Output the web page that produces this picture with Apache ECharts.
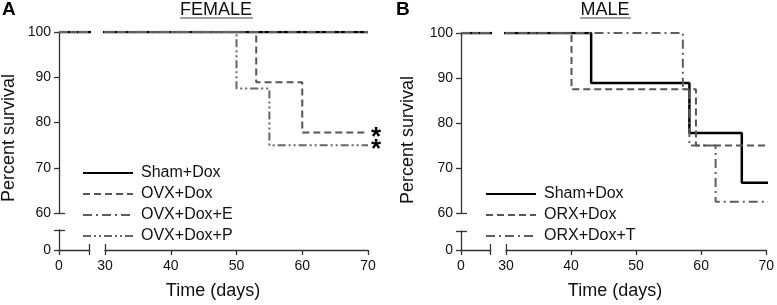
<!DOCTYPE html>
<html><head><meta charset="utf-8">
<script src="https://cdn.jsdelivr.net/npm/echarts@6/dist/echarts.min.js"></script>
<style>html,body{margin:0;padding:0;background:#fff}#c{width:777px;height:305px}</style>
</head><body><div id="c"></div>
<script>
const FONT = '"Liberation Sans", Arial, Helvetica, sans-serif';

// ---------- DATA ----------
// Panel A (FEMALE): Kaplan-Meier steps [day, percent survival]
const femaleNames = ['Sham+Dox', 'OVX+Dox', 'OVX+Dox+E', 'OVX+Dox+P'];
const femaleShamDays = [0, 70];
const femaleShamSurv = [100, 100];
const femaleOvxDays = [0, 53, 60, 70];
const femaleOvxSurv = [100, 88.9, 77.8, 77.8];
const femaleOvxEDays = [0, 70];
const femaleOvxESurv = [100, 100];
const femaleOvxPDays = [0, 50, 55, 70];
const femaleOvxPSurv = [100, 87.5, 75, 75];
const femaleSignificant = [false, true, false, true];

// Panel B (MALE)
const maleNames = ['Sham+Dox', 'ORX+Dox', 'ORX+Dox+T'];
const maleShamDays = [0, 43, 58, 66, 70];
const maleShamSurv = [100, 88.9, 77.8, 66.7, 66.7];
const maleOrxDays = [0, 40, 59, 70];
const maleOrxSurv = [100, 87.5, 75, 75];
const maleOrxTDays = [0, 57, 58, 62, 70];
const maleOrxTSurv = [100, 87.5, 75, 62.5, 62.5];
const maleSignificant = [false, false, false];

// Axis ticks
const xTicksLeft = [0];
const xTicksRight = [30, 40, 50, 60, 70];
const yTicksUpper = [60, 70, 80, 90, 100];
const yTicksLower = [0];
const LEFT_MAX = 4.5;   // end of the short first x segment (days)

// ---------- STYLES ----------
const STY = {
  solid:      {color: '#000',    width: 2.5, type: 'solid'},
  dashed:     {color: '#555',    width: 2,   type: [7, 4]},
  dashDot:    {color: '#5e5e5e', width: 2,   type: [9, 4, 2, 4]},
  dashDotDot: {color: '#666',    width: 2,   type: [8, 3, 2, 3, 2, 3]}
};
const AX = {color: '#333', width: 1.3};

function pts(days, surv) { return days.map((d, i) => [d, surv[i]]); }

const femaleDefs = [
  {data: pts(femaleShamDays, femaleShamSurv), st: STY.solid},
  {data: pts(femaleOvxDays, femaleOvxSurv), st: STY.dashed},
  {data: pts(femaleOvxEDays, femaleOvxESurv), st: STY.dashDot},
  {data: pts(femaleOvxPDays, femaleOvxPSurv), st: STY.dashDotDot}
].map((d, i) => Object.assign(d, {name: femaleNames[i], sig: femaleSignificant[i]}));

const maleDefs = [
  {data: pts(maleShamDays, maleShamSurv), st: STY.solid},
  {data: pts(maleOrxDays, maleOrxSurv), st: STY.dashed},
  {data: pts(maleOrxTDays, maleOrxTSurv), st: STY.dashDot}
].map((d, i) => Object.assign(d, {name: maleNames[i], sig: maleSignificant[i]}));

const grids = [], xAxes = [], yAxes = [], series = [];

function hidden(gridIndex, min, max) {
  return {type: 'value', gridIndex, min, max, show: false, splitLine: {show: false}};
}
function labelCfg(values, margin) {
  return {show: values.length > 0, customValues: values, fontSize: 14, fontFamily: FONT, color: '#111', margin};
}
function mainAxis(gridIndex, min, max, pos, tickVals, labelVals, margin) {
  return {
    type: 'value', gridIndex, min, max, position: pos, offset: 0,
    axisLine: {show: true, onZero: false, lineStyle: AX},
    axisTick: {show: true, inside: false, length: 5, customValues: tickVals, lineStyle: AX},
    axisLabel: labelCfg(labelVals, margin),
    splitLine: {show: false}
  };
}
function capAxis(gridIndex, min, max, pos, vals) {
  return {
    type: 'value', gridIndex, min, max, position: pos, offset: 0,
    axisLine: {show: false},
    axisTick: {show: true, inside: true, length: 6, customValues: vals, lineStyle: AX},
    axisLabel: {show: false},
    splitLine: {show: false}
  };
}

function addPanel(L, defs) {
  const gUL = grids.push({left: L.yx, top: L.top, width: L.le - L.yx, height: L.y60 - L.top}) - 1;
  const gUR = grids.push({left: L.rs, top: L.top, width: L.re - L.rs, height: L.y60 - L.top}) - 1;
  const gLL = grids.push({left: L.yx, top: L.lt, width: L.le - L.yx, height: L.zero - L.lt}) - 1;
  const gLR = grids.push({left: L.rs, top: L.lt, width: L.re - L.rs, height: L.zero - L.lt}) - 1;

  // upper-left
  const xUL = xAxes.push(hidden(gUL, 0, LEFT_MAX)) - 1;
  const yUL = yAxes.push(mainAxis(gUL, 60, 100, 'left', yTicksUpper, yTicksUpper, 8)) - 1;
  yAxes.push(capAxis(gUL, 60, 100, 'left', [60]));
  // upper-right
  const xUR = xAxes.push(hidden(gUR, 30, 70)) - 1;
  const yUR = yAxes.push(hidden(gUR, 60, 100)) - 1;
  // lower-left
  xAxes.push(mainAxis(gLL, 0, LEFT_MAX, 'bottom', [0, LEFT_MAX], xTicksLeft, 9));
  xAxes.push(capAxis(gLL, 0, LEFT_MAX, 'bottom', [LEFT_MAX]));
  yAxes.push(mainAxis(gLL, 0, 1, 'left', [0, 1], yTicksLower, 8));
  yAxes.push(capAxis(gLL, 0, 1, 'left', [1]));
  // lower-right
  xAxes.push(mainAxis(gLR, 30, 70, 'bottom', xTicksRight, xTicksRight, 9));
  xAxes.push(capAxis(gLR, 30, 70, 'bottom', [30]));
  yAxes.push(hidden(gLR, 0, 1));

  defs.forEach(d => {
    [[xUL, yUL, false], [xUR, yUR, true]].forEach(([xi, yi, right]) => {
      series.push({
        type: 'line', name: d.name, xAxisIndex: xi, yAxisIndex: yi,
        data: d.data, step: 'end', symbol: 'none', clip: true,
        lineStyle: {color: d.st.color, width: d.st.width, type: d.st.type, cap: 'butt'},
        itemStyle: {color: d.st.color},
        endLabel: (right && d.sig) ? {
          show: true, formatter: '*', fontSize: 26, fontWeight: 'bold', fontFamily: FONT,
          color: '#000', distance: 3, offset: [0, 5]
        } : {show: false},
        emphasis: {disabled: true},
        z: 2
      });
    });
  });
}

const PA = {yx: 59, le: 89, rs: 105, re: 368, top: 32, y60: 213, lt: 230, zero: 250};
const PB = {yx: 461, le: 490, rs: 506, re: 768, top: 33, y60: 213, lt: 231, zero: 250};
addPanel(PA, femaleDefs);
addPanel(PB, maleDefs);

function legendCfg(names, left, top) {
  return {
    orient: 'vertical', left, top, data: names,
    itemWidth: 50, itemHeight: 14, itemGap: 5,
    selectedMode: false,
    itemStyle: {opacity: 0, borderWidth: 0},
    formatter: '{t|{name}}',
    textStyle: {rich: {t: {padding: [0, 0, 0, 3], fontSize: 16, fontFamily: FONT, color: '#111'}}}
  };
}

function txt(text, x, y, size, opts) {
  return Object.assign({type: 'text', x, y, silent: true,
    style: {text, fontSize: size, fontFamily: FONT, fill: '#111', textAlign: 'center', textVerticalAlign: 'middle'}}, opts || {});
}

const option = {
  animation: false,
  backgroundColor: '#fff',
  grid: grids,
  xAxis: xAxes,
  yAxis: yAxes,
  series,
  legend: [legendCfg(femaleNames, 77, 160), legendCfg(maleNames, 480, 181)],
  graphic: [
    {type: 'text', x: 2, y: 0, style: {text: 'A', fontSize: 19, fontWeight: 'bold', fontFamily: FONT, fill: '#000'}},
    {type: 'text', x: 396, y: 0, style: {text: 'B', fontSize: 19, fontWeight: 'bold', fontFamily: FONT, fill: '#000'}},
    txt('FEMALE', 216, 10, 18),
    {type: 'line', shape: {x1: 180, y1: 18, x2: 253, y2: 18}, style: {stroke: '#444', lineWidth: 1}},
    txt('MALE', 605, 10, 18),
    {type: 'line', shape: {x1: 580, y1: 18, x2: 631, y2: 18}, style: {stroke: '#444', lineWidth: 1}},
    txt('Time (days)', 213, 291, 18),
    txt('Time (days)', 615, 291, 18),
    Object.assign(txt('Percent survival', 9, 138, 18), {rotation: Math.PI / 2}),
    Object.assign(txt('Percent survival', 408, 140, 18), {rotation: Math.PI / 2})
  ]
};

const chart = echarts.init(document.getElementById('c'), null, {renderer: 'canvas'});
chart.setOption(option);
</script>
</body></html>
